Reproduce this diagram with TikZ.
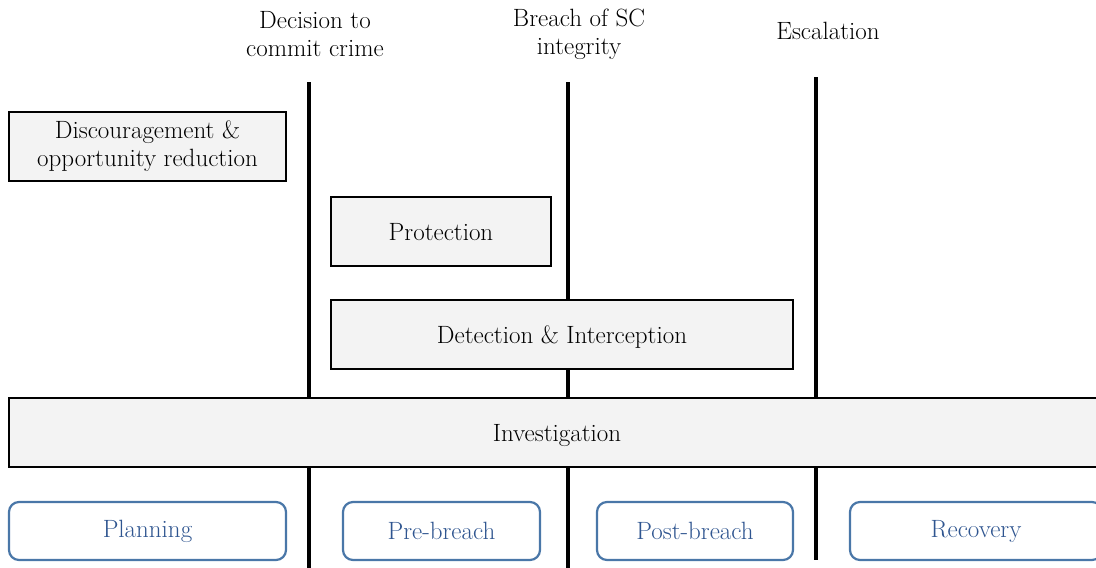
\documentclass[tikz,border=0pt]{standalone}
\usepackage{fontspec}
\definecolor{boxfill}{HTML}{F3F3F3}
\definecolor{phaseline}{HTML}{4A77A8}
\definecolor{phasetext}{HTML}{2F5590}
\begin{document}
\begin{tikzpicture}[x=1pt,y=-1pt,
  every node/.style={font=\fontsize{25}{28}\selectfont, inner sep=0pt},
  greybox/.style={draw=black, line width=1.4pt, fill=boxfill, align=center},
  lowtext/.style={text height=22pt, text depth=5pt},
  phasebox/.style={draw=phaseline, line width=2.2pt, rounded corners=10pt, fill=white, text=phasetext},
  divider/.style={line width=3.2pt},
  eventlabel/.style={align=center}]
\useasboundingbox (0,0) rectangle (1096,568);
\clip (0,0) rectangle (1096,568);
% dividers
\coordinate (d1t) at (309,82); \coordinate (d1b) at (309,568);
\coordinate (d2t) at (568,82); \coordinate (d2b) at (568,568);
\coordinate (d3t) at (816,77); \coordinate (d3b) at (816,560);
\draw[divider] (d1t) -- (d1b);
\draw[divider] (d2t) -- (d2b);
\draw[divider] (d3t) -- (d3b);
% event labels
\node[eventlabel] (e1) at (315,34) {Decision to\\commit crime};
\node[eventlabel] (e2) at (579,34) {Breach of SC\\integrity};
\node[eventlabel] (e3) at (828,31) {Escalation};
% boxes
\node[greybox, minimum width=277pt, minimum height=69pt] (disc) at (147.5,146.5) {Discouragement \&\\opportunity reduction};
\node[greybox, lowtext, minimum width=220pt, minimum height=69pt] (prot) at (441,231.5) {Protection};
\node[greybox, lowtext, minimum width=462pt, minimum height=69pt] (det) at (562,334.5) {Detection \& Interception};
\node[greybox, lowtext, minimum width=1096pt, minimum height=69pt] (inv) at (557,432.5) {Investigation};
% phases
\node[phasebox, minimum width=277pt, minimum height=58pt] (plan) at (147.5,531) {Planning};
\node[phasebox, minimum width=197pt, minimum height=58pt] (pre) at (441.5,531) {Pre-breach};
\node[phasebox, minimum width=196pt, minimum height=58pt] (post) at (695,531) {Post-breach};
\node[phasebox, minimum width=252pt, minimum height=58pt] (rec) at (976,531) {Recovery};
\end{tikzpicture}
\end{document}
